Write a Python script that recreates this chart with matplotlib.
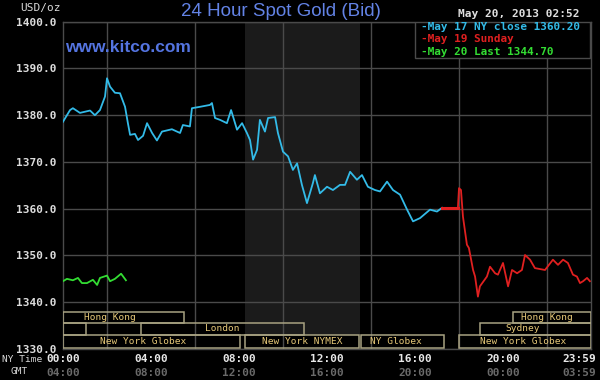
import matplotlib
matplotlib.use("Agg")
import matplotlib.pyplot as plt
from matplotlib.patches import Rectangle
import matplotlib.transforms as mtransforms

# ---------------- data ----------------
blue_hours = [0, 0.32, 0.45, 0.77, 1.23, 1.45, 1.68, 1.91, 2.0, 2.14, 2.36, 2.59, 2.82, 2.95,
              3.05, 3.27, 3.41, 3.64, 3.82, 4.05, 4.27, 4.5, 4.95, 5.32, 5.45, 5.77, 5.86,
              6.23, 6.68, 6.77, 6.91, 7.14, 7.45, 7.64, 7.91, 8.14, 8.36, 8.5, 8.64, 8.82,
              8.95, 9.18, 9.32, 9.64, 9.77, 10.0, 10.23, 10.45, 10.64, 10.86, 11.09, 11.36,
              11.45, 11.68, 12.0, 12.27, 12.59, 12.82, 13.05, 13.36, 13.59, 13.86, 14.18,
              14.41, 14.73, 15.0, 15.32, 15.64, 15.91, 16.23, 16.68, 17.0, 17.23]
blue_prices = [1378.6, 1381.1, 1381.5, 1380.5, 1381.0, 1380.0, 1381.1, 1384.0, 1387.9, 1386.1,
               1384.8, 1384.7, 1381.8, 1378.3, 1375.8, 1376.0, 1374.7, 1375.6, 1378.3, 1376.2,
               1374.6, 1376.5, 1377.0, 1376.2, 1377.9, 1377.6, 1381.5, 1381.8, 1382.2, 1382.6,
               1379.4, 1379.0, 1378.3, 1381.1, 1376.9, 1378.3, 1376.2, 1374.7, 1370.5, 1372.6,
               1379.0, 1376.5, 1379.4, 1379.6, 1376.2, 1372.2, 1371.2, 1368.3, 1369.7, 1365.1,
               1361.2, 1365.5, 1367.2, 1363.3, 1364.7, 1364.0, 1365.1, 1365.1, 1367.9, 1366.2,
               1367.2, 1364.7, 1364.0, 1363.7, 1365.8, 1364.0, 1363.0, 1359.8, 1357.3, 1358.0,
               1359.8, 1359.4, 1360.2]

red_hours = [17.23, 17.95, 18.0, 18.09, 18.18, 18.36, 18.45, 18.64, 18.73, 18.86, 18.95, 19.27,
             19.41, 19.64, 19.77, 20.0, 20.23, 20.41, 20.64, 20.86, 21.0, 21.23, 21.45, 21.91,
             22.27, 22.5, 22.73, 22.95, 23.18, 23.36, 23.5, 23.64, 23.82, 23.95]
red_prices = [1360.2, 1360.2, 1364.4, 1364.0, 1358.3, 1352.3, 1351.6, 1346.9, 1345.5, 1341.2,
              1343.4, 1345.5, 1347.6, 1346.2, 1345.9, 1348.4, 1343.4, 1346.9, 1346.2, 1346.9,
              1350.1, 1349.1, 1347.3, 1346.9, 1349.1, 1348.0, 1349.1, 1348.4, 1345.9, 1345.5,
              1344.1, 1344.5, 1345.2, 1344.5]

green_hours = [0, 0.18, 0.45, 0.68, 0.86, 1.09, 1.36, 1.55, 1.68, 2.0, 2.14, 2.36, 2.64, 2.86]
green_prices = [1344.5, 1345.0, 1344.7, 1345.2, 1344.1, 1344.1, 1344.8, 1343.7, 1345.2, 1345.7,
                1344.5, 1345.0, 1346.1, 1344.7]

legend_texts = ["-May 17 NY close 1360.20", "-May 19 Sunday", "-May 20 Last 1344.70"]
tick_hours = [0, 4, 8, 12, 16, 20, 24]
ny_tick_labels = ["00:00", "04:00", "08:00", "12:00", "16:00", "20:00", "23:59"]
gmt_tick_labels = ["04:00", "08:00", "12:00", "16:00", "20:00", "00:00", "03:59"]
y_ticks = [1330, 1340, 1350, 1360, 1370, 1380, 1390, 1400]

session_names = ["Hong Kong", "", "London", "New York Globex", "New York NYMEX", "NY Globex",
                 "New York Globex", "Sydney", "Hong Kong"]
session_start = [0, 0, 3.55, 0, 8.27, 13.55, 18.0, 18.95, 20.45]
session_end = [5.5, 1.05, 10.95, 8.05, 13.45, 17.3, 24, 24, 24]
session_row = [0, 1, 1, 2, 2, 2, 2, 1, 0]
session_text_x = [2.14, 0, 7.25, 3.64, 10.86, 15.14, 20.93, 20.9, 22.0]

# ---------------- style ----------------
BG = "black"
GRID = "#4a4a4a"
MONO = "DejaVu Sans Mono"
row_bounds = [(1335.6, 1338.0), (1333.0, 1335.6), (1330.3, 1333.0)]

fig = plt.figure(figsize=(6, 3.8), dpi=100, facecolor=BG)
ax = fig.add_axes([63 / 600, 1 - 349 / 380, 528 / 600, (349 - 21.7) / 380])
ax.set_facecolor(BG)
ax.set_xlim(0, 24)
ax.set_ylim(1330, 1400)

# shaded NYMEX period
ax.add_patch(Rectangle((8.27, 1333.0), 13.5 - 8.27, 67, facecolor="#1b1b1b",
                       edgecolor="none", zorder=0))

ax.set_yticks(y_ticks)
ax.set_yticklabels([f"{v:.1f}" for v in y_ticks], fontfamily=MONO, fontsize=8,
                   fontweight="bold", color="#dcdcdc")
ax.set_xticks(tick_hours)
ax.set_xticklabels([""] * len(tick_hours))
ax.set_xticks(range(0, 25, 2), minor=True)
ax.tick_params(axis="both", which="both", length=0)
ax.tick_params(axis="y", pad=5)
ax.grid(True, which="minor", axis="x", color=GRID, lw=1, zorder=1)
ax.grid(True, which="major", axis="y", color=GRID, lw=1, zorder=1)
for s in ax.spines.values():
    s.set_color(GRID)
    s.set_linewidth(1)

# time labels (NY and GMT); last one pulled in so it fits
trans = mtransforms.blended_transform_factory(ax.transData, fig.transFigure)
shift = [0, 0, 0, 0, 0, 0, -0.55]
for h, d, ny, gmt in zip(tick_hours, shift, ny_tick_labels, gmt_tick_labels):
    ax.text(h + d, 1 - 359 / 380, ny, transform=trans, ha="center", va="center",
            fontfamily=MONO, fontsize=8, fontweight="bold", color="#e8e8e8")
    ax.text(h + d, 1 - 373 / 380, gmt, transform=trans, ha="center", va="center",
            fontfamily=MONO, fontsize=8, fontweight="bold", color="#6a6a6a")
fig.text(2 / 600, 1 - 360 / 380, "NY Time", ha="left", va="center", fontfamily=MONO,
         fontsize=6.8, color="#d8d8d8")
fig.text(19 / 600, 1 - 372 / 380, "GMT", ha="center", va="center", fontfamily=MONO,
         fontsize=6.8, color="#d8d8d8")

# sessions
for name, s, e, r, tx in zip(session_names, session_start, session_end, session_row,
                             session_text_x):
    lo, hi = row_bounds[r]
    ax.add_patch(Rectangle((s, lo), e - s, hi - lo, facecolor="none", edgecolor="#a8a282",
                           lw=1.1, zorder=3))
    if name:
        ax.text(tx, (lo + hi) / 2, name, ha="center", va="center", fontfamily=MONO,
                fontsize=6.8, color="#e6c878", zorder=4)

# series
ax.plot(green_hours, green_prices, color="#33dd33", lw=1.3, zorder=5)
ax.plot(blue_hours, blue_prices, color="#33bbe8", lw=1.3, zorder=5)
ax.plot(red_hours[:2], red_prices[:2], color="#e02020", lw=2.2, zorder=5)
ax.plot(red_hours[1:], red_prices[1:], color="#e02020", lw=1.3, zorder=5)

# legend box
ax.add_patch(Rectangle((415 / 600, 1 - 58 / 380), 175 / 600, (58 - 21.7) / 380,
                       transform=fig.transFigure, facecolor=BG, edgecolor=GRID, lw=1,
                       zorder=6))
for i, (t, c) in enumerate(zip(legend_texts, ["#33bbe8", "#e02020", "#33dd33"])):
    fig.text(421 / 600, 1 - (27 + i * 12.5) / 380, t, ha="left", va="center",
             fontfamily=MONO, fontsize=7.9, fontweight="bold", color=c, zorder=7)

# titles
fig.text(281 / 600, 1 - 11 / 380, "24 Hour Spot Gold (Bid)", ha="center", va="center",
         fontfamily="Liberation Sans", fontsize=13.5, color="#6383e6")
fig.text(65 / 600, 1 - 47 / 380, "www.kitco.com", ha="left", va="center",
         fontfamily="Liberation Sans", fontsize=12.5, fontweight="bold", color="#5474e0")
fig.text(20 / 600, 1 - 8 / 380, "USD/oz", ha="left", va="center", fontfamily=MONO,
         fontsize=8, color="#d8d8d8")
fig.text(579 / 600, 1 - 14 / 380, "May 20, 2013 02:52", ha="right", va="center",
         fontfamily=MONO, fontsize=8, fontweight="bold", color="#e0e0e0")

fig.savefig("out.png", dpi=100, facecolor=BG)
